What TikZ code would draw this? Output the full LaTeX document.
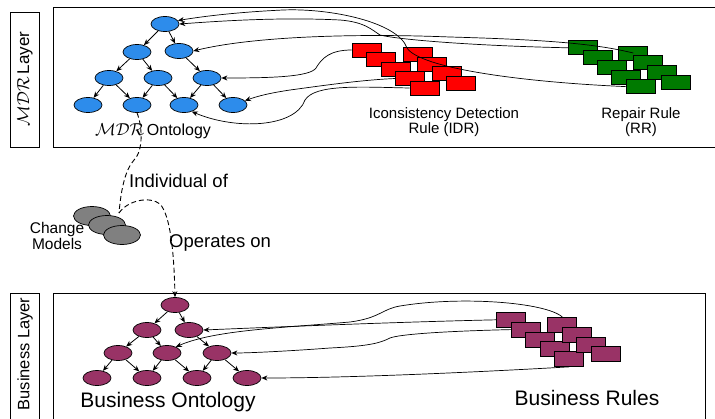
\documentclass[tikz,border=0pt]{standalone}
\usepackage{fontspec}
\setmainfont{Liberation Sans}
\usepackage{tikz}
\usetikzlibrary{arrows.meta,positioning,shapes.geometric}
\definecolor{mdrblue}{RGB}{45,140,235}
\definecolor{idrred}{RGB}{255,0,0}
\definecolor{rrgreen}{RGB}{0,122,0}
\definecolor{bizplum}{RGB}{153,51,102}
\definecolor{cmgrey}{RGB}{128,128,128}

\begin{document}
\begin{tikzpicture}[
    x=1pt, y=-1pt,
    onto/.style={ellipse, draw, line width=0.7pt, minimum width=28pt, minimum height=15pt, inner sep=0pt},
    rulebox/.style={rectangle, draw, line width=0.7pt, minimum width=29pt, minimum height=14pt, inner sep=0pt},
    tree/.style={-{Stealth[length=6pt,width=5pt]}, line width=0.8pt},
    link/.style={-{Stealth[length=6pt,width=5pt]}, line width=0.7pt},
    dep/.style={dash pattern=on 5pt off 3pt, line width=0.9pt},
    layer/.style={draw, line width=1pt},
    lbl/.style={font=\fontsize{15}{12}\selectfont, align=center, inner sep=0pt}
]
    \useasboundingbox (0,0) rectangle (715,418);

    % layers
    \draw[layer] (10,12) rectangle (39,147);
    \draw[layer] (53,7) rectangle (717,147);
    \draw[layer] (10,293) rectangle (39,425);
    \draw[layer] (53,293) rectangle (705,425);
    \node[rotate=90, font=\fontsize{17}{17}\selectfont, inner sep=0pt] (mdrlayer) at (25,79) {$\mathcal{MDR}$\,Layer};
    \node[rotate=90, font=\fontsize{16.5}{16.5}\selectfont, inner sep=0pt] (bizlayer) at (25,354) {Business Layer};

    % MDR ontology
    \node[onto, fill=mdrblue] (m0) at (165,24) {};
    \node[onto, fill=mdrblue] (m1) at (137,52) {};
    \node[onto, fill=mdrblue] (m2) at (179,51) {};
    \node[onto, fill=mdrblue] (m3) at (109,78) {};
    \node[onto, fill=mdrblue] (m4) at (158,78) {};
    \node[onto, fill=mdrblue] (m5) at (207,78) {};
    \node[onto, fill=mdrblue] (m6) at (88,105) {};
    \node[onto, fill=mdrblue] (m7) at (137,105) {};
    \node[onto, fill=mdrblue] (m8) at (184,105) {};
    \node[onto, fill=mdrblue] (m9) at (233,105) {};
    \draw[tree] (m0) -- (m1);
    \draw[tree] (m0) -- (m2);
    \draw[tree] (m1) -- (m3);
    \draw[tree] (m1) -- (m4);
    \draw[tree] (m2) -- (m5);
    \draw[tree] (m3) -- (m6);
    \draw[tree] (m3) -- (m7);
    \draw[tree] (m4) -- (m7);
    \draw[tree] (m4) -- (m8);
    \draw[tree] (m5) -- (m8);
    \draw[tree] (m5) -- (m9);
    \node[font=\fontsize{16}{16}\selectfont, inner sep=0pt] (mdrlbl) at (153,131) {$\mathcal{MDR}$\,Ontology};

    % IDR rules
    \node[rulebox, fill=idrred] (r1) at (366.5,50) {};
    \node[rulebox, fill=idrred] (r2) at (381,59.5) {};
    \node[rulebox, fill=idrred] (r3) at (395.5,69) {};
    \node[rulebox, fill=idrred] (r4) at (410,78.5) {};
    \node[rulebox, fill=idrred] (r5) at (424.5,88) {};
    \node[rulebox, fill=idrred] (r6) at (417.5,54.5) {};
    \node[rulebox, fill=idrred] (r7) at (432,64) {};
    \node[rulebox, fill=idrred] (r8) at (446.5,73.5) {};
    \node[rulebox, fill=idrred] (r9) at (461,83) {};
    \node[lbl] (idrlbl) at (444,122) {Iconsistency Detection\\Rule (IDR)};

    % repair rules
    \node[rulebox, fill=rrgreen] (g1) at (583.3,47.8) {};
    \node[rulebox, fill=rrgreen] (g2) at (597.6,57.5) {};
    \node[rulebox, fill=rrgreen] (g3) at (611.9,67.2) {};
    \node[rulebox, fill=rrgreen] (g4) at (626.2,76.9) {};
    \node[rulebox, fill=rrgreen] (g5) at (640.5,86.6) {};
    \node[rulebox, fill=rrgreen] (g6) at (633.3,53) {};
    \node[rulebox, fill=rrgreen] (g7) at (647.6,62.7) {};
    \node[rulebox, fill=rrgreen] (g8) at (661.9,72.4) {};
    \node[rulebox, fill=rrgreen] (g9) at (676.2,82.1) {};
    \node[lbl] (rrlbl) at (641,122) {Repair Rule\\(RR)};

    % rules onto MDR ontology
    \draw[link] (g5.west) .. controls (520,82) and (420,68) .. (407,48)
        .. controls (398,22) and (330,8) .. (283,10)
        .. controls (240,12) and (205,16) .. (m0.15);
    \draw[link] (g1.west) .. controls (480,46) and (400,40) .. (380,35)
        .. controls (372,30) and (365,22) .. (340,20)
        .. controls (280,17) and (220,21) .. (m0.east);
    \draw[link] (g6.center) .. controls (600,45) and (560,40) .. (450,37)
        .. controls (350,33) and (250,37) .. (m2.east);
    \draw[link] (r1.west) .. controls (330,50) and (322,58) .. (316,68)
        .. controls (310,77) and (270,78) .. (m5.east);
    \draw[link] (r4.west) .. controls (360,80) and (320,86) .. (290,90)
        .. controls (270,93) and (258,96) .. (m9.20);
    \draw[link] (r5.west) .. controls (360,87) and (315,84) .. (305,100)
        .. controls (295,128) and (235,130) .. (m8.-40);

    % change models
    \node[ellipse, draw, line width=0.7pt, fill=cmgrey, minimum width=37pt, minimum height=19pt] (c1) at (92,216) {};
    \node[ellipse, draw, line width=0.7pt, fill=cmgrey, minimum width=37pt, minimum height=19pt] (c2) at (107,225) {};
    \node[ellipse, draw, line width=0.7pt, fill=cmgrey, minimum width=37pt, minimum height=19pt] (c3) at (122,235) {};
    \node[align=center, font=\fontsize{15.5}{13}\selectfont, inner sep=0pt] (cmlbl) at (57,236) {Change\\Models};
    \coordinate (cmjoin) at (119,213);

    % business ontology
    \node[onto, fill=bizplum] (b0) at (175,305) {};
    \node[onto, fill=bizplum] (b1) at (147,330) {};
    \node[onto, fill=bizplum] (b2) at (189,330) {};
    \node[onto, fill=bizplum] (b3) at (118,353) {};
    \node[onto, fill=bizplum] (b4) at (167,353) {};
    \node[onto, fill=bizplum] (b5) at (217,353) {};
    \node[onto, fill=bizplum] (b6) at (97,378) {};
    \node[onto, fill=bizplum] (b7) at (147,378) {};
    \node[onto, fill=bizplum] (b8) at (197,378) {};
    \node[onto, fill=bizplum] (b9) at (247,378) {};
    \draw[tree] (b0) -- (b1);
    \draw[tree] (b0) -- (b2);
    \draw[tree] (b1) -- (b3);
    \draw[tree] (b1) -- (b4);
    \draw[tree] (b2) -- (b5);
    \draw[tree] (b3) -- (b6);
    \draw[tree] (b3) -- (b7);
    \draw[tree] (b4) -- (b7);
    \draw[tree] (b4) -- (b8);
    \draw[tree] (b5) -- (b8);
    \draw[tree] (b5) -- (b9);
    \node[font=\fontsize{21}{21}\selectfont, inner sep=0pt] (bizonto) at (168,402) {Business Ontology};

    % change models between the layers
    \draw[dep] (m7.south) .. controls (142,125) and (144,150) .. (134,160)
        .. controls (125,170) and (121,190) .. (cmjoin);
    \draw[dep, -{Stealth[length=6pt,width=5pt]}] (cmjoin) .. controls (128,200) and (150,196) .. (160,204)
        .. controls (170,215) and (174,250) .. (b0.north);
    \node[anchor=west, font=\fontsize{18.5}{18.5}\selectfont, inner sep=0pt] (indiv) at (129,181) {Individual of};
    \node[anchor=west, font=\fontsize{18.5}{18.5}\selectfont, inner sep=0pt] (opson) at (169,243) {Operates on};

    % business rules
    \node[rulebox, fill=bizplum, minimum height=15pt] (p1) at (511.3,319.8) {};
    \node[rulebox, fill=bizplum, minimum height=15pt] (p2) at (525.8,329.6) {};
    \node[rulebox, fill=bizplum, minimum height=15pt] (p3) at (540.3,339.4) {};
    \node[rulebox, fill=bizplum, minimum height=15pt] (p4) at (554.8,349.2) {};
    \node[rulebox, fill=bizplum, minimum height=15pt] (p5) at (569.3,359) {};
    \node[rulebox, fill=bizplum, minimum height=15pt] (p6) at (562.3,324.8) {};
    \node[rulebox, fill=bizplum, minimum height=15pt] (p7) at (576.8,334.6) {};
    \node[rulebox, fill=bizplum, minimum height=15pt] (p8) at (591.3,344.4) {};
    \node[rulebox, fill=bizplum, minimum height=15pt] (p9) at (605.8,354.2) {};
    \node[font=\fontsize{21}{21}\selectfont, inner sep=0pt] (bizrules) at (587,398) {Business Rules};

    \draw[link] (p1.west) .. controls (400,322) and (300,326) .. (b2.east);
    \draw[link] (p6.north) .. controls (545,302) and (460,296) .. (400,306)
        .. controls (382,309) and (380,318) .. (350,322)
        .. controls (280,328) and (215,330) .. (b4.35);
    \draw[link] (p2.west) .. controls (450,331) and (400,334) .. (390,338)
        .. controls (380,343) and (370,346) .. (330,348)
        .. controls (290,351) and (250,353) .. (b5.east);
    \draw[link] (p5.south) .. controls (480,372) and (350,378) .. (b9.east);
\end{tikzpicture}
\end{document}
